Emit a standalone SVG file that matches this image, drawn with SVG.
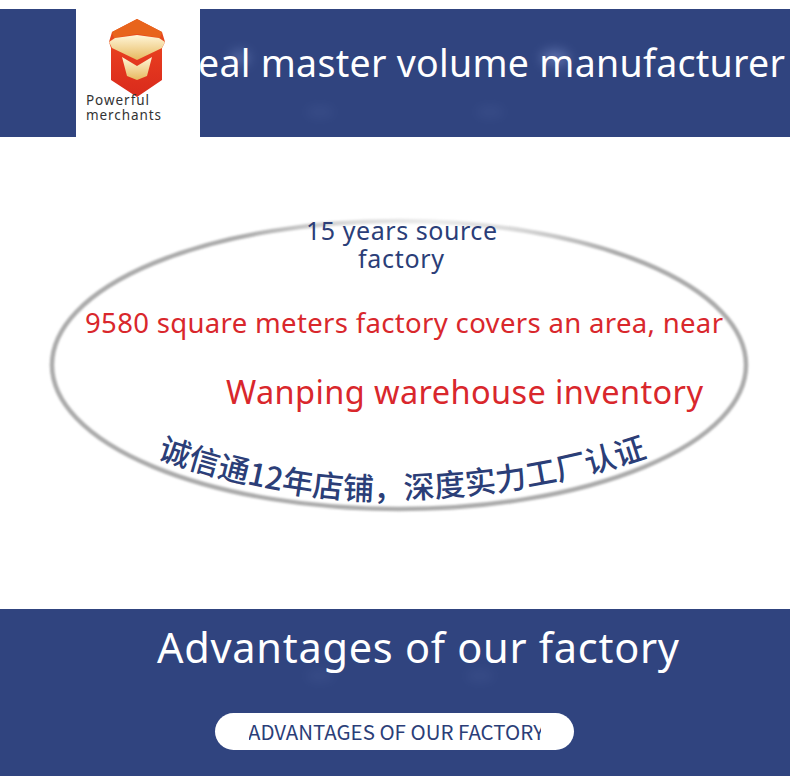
<svg xmlns="http://www.w3.org/2000/svg" width="790" height="783" viewBox="0 0 790 783">
<style>
.b{fill:#30447f}
.t{font-family:"Noto Sans","Noto Sans CJK SC",sans-serif}
.c{font-family:"Noto Sans CJK SC",sans-serif}
.w{fill:#fff}
.n{fill:#2b3e78}
.r{fill:#d9272c}
.g{fill:#8fa3de;filter:url(#glow)}
</style>
<defs>
<filter id="blur" x="-5%" y="-5%" width="110%" height="110%"><feGaussianBlur stdDeviation="1"/></filter>
<filter id="glow" x="-100%" y="-100%" width="300%" height="300%"><feGaussianBlur stdDeviation="6"/></filter>
<radialGradient id="rim" gradientUnits="userSpaceOnUse" cx="430" cy="215" r="190">
<stop offset="0" stop-color="#ececec"/><stop offset="0.45" stop-color="#d8d8d8"/><stop offset="1" stop-color="#ababab"/>
</radialGradient>
<linearGradient id="shield" x1="0" y1="0" x2="0" y2="1">
<stop offset="0" stop-color="#e8541c"/><stop offset="0.5" stop-color="#e5391f"/><stop offset="1" stop-color="#d92a1c"/>
</linearGradient>
<linearGradient id="gold" x1="0" y1="0" x2="0" y2="1">
<stop offset="0" stop-color="#fff6d8"/><stop offset="1" stop-color="#e7b95f"/>
</linearGradient>
<clipPath id="btn"><rect x="249" y="715" width="292" height="33"/></clipPath>
<path id="arc" d="M157 458 C 240 487 330 505 410 499 C 490 495 570 484 650 456"/>
</defs>
<g id="header">
<rect class="b" x="0" y="9" width="790" height="128"/>
<ellipse class="g" cx="555" cy="58" rx="14" ry="8" opacity=".45"/>
<ellipse class="g" cx="240" cy="58" rx="10" ry="8" opacity=".35"/>
<ellipse class="g" cx="320" cy="112" rx="14" ry="5" opacity=".1"/>
<ellipse class="g" cx="490" cy="112" rx="14" ry="5" opacity=".1"/>
<text class="t w" x="198" y="77" font-size="37.5" textLength="587" lengthAdjust="spacing">eal master volume manufacturer</text>
</g>
<g id="logo">
<rect x="76" y="0" width="124" height="137" fill="#fff"/>
<path fill="url(#shield)" d="M137 19 L162 32 L165 42 L162 48 L162 80 L137 97 L111 80 L111 48 L109 42 L112 32 Z"/>
<path fill="#e8641c" d="M137 19 L162 32 L160 38 L137 34 L114 38 L112 32 Z"/>
<path fill="url(#gold)" d="M137 35 L159 38 L165 42 L162 48 L137 60 L112 48 L109 42 L115 38 Z"/>
<path fill="url(#gold)" d="M122 57 L137 66 L152 57 L147 76 L137 80 L127 76 Z"/>
<text class="t" x="86" y="105" font-size="13.5" fill="#333" textLength="63" lengthAdjust="spacing">Powerful</text>
<text class="t" x="86" y="120" font-size="13.5" fill="#333" textLength="75" lengthAdjust="spacing">merchants</text>
</g>
<g id="ellipse-panel">
<ellipse cx="399" cy="365" rx="347" ry="144" fill="none" stroke="url(#rim)" stroke-width="4.5" filter="url(#blur)"/>
<text class="t n" x="306" y="240" font-size="25" textLength="191" lengthAdjust="spacing">15 years source</text>
<text class="t n" x="358" y="268" font-size="25" textLength="86" lengthAdjust="spacing">factory</text>
<text class="t r" x="85" y="333" font-size="27.5" textLength="638" lengthAdjust="spacing">9580 square meters factory covers an area, near</text>
<text class="t r" x="226" y="404" font-size="32.5" textLength="477" lengthAdjust="spacing">Wanping warehouse inventory</text>
<text class="c n" font-size="31" font-weight="500"><textPath href="#arc">诚信通12年店铺，深度实力工厂认证</textPath></text>
</g>
<g id="footer">
<rect class="b" x="0" y="609" width="790" height="167"/>
<ellipse class="g" cx="320" cy="676" rx="14" ry="5" opacity=".1"/>
<ellipse class="g" cx="480" cy="676" rx="14" ry="5" opacity=".1"/>
<text class="t w" x="157" y="663" font-size="41.5" textLength="522" lengthAdjust="spacing">Advantages of our factory</text>
<rect x="215" y="713" width="359" height="37" rx="18.5" fill="#fff"/>
<text class="c n" x="248" y="740" font-size="20.5" textLength="296" lengthAdjust="spacingAndGlyphs" clip-path="url(#btn)">ADVANTAGES OF OUR FACTORY</text>
</g>
</svg>
